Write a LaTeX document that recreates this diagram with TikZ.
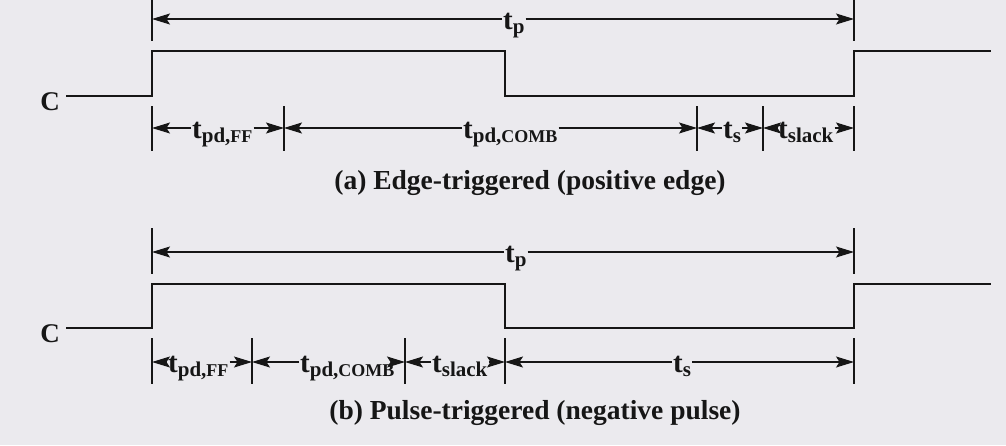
\documentclass[tikz,border=0pt]{standalone}
\usepackage{fontspec}
\setmainfont{Liberation Serif}
\usetikzlibrary{arrows.meta}
\definecolor{bg}{RGB}{235,234,238}
\definecolor{ink}{RGB}{22,22,22}
\newcommand{\lc}[1]{{\fontsize{21}{21}\selectfont #1}}
\newcommand{\uc}[1]{{\fontsize{18}{18}\selectfont #1}}
\newcommand{\tsub}[1]{t\raisebox{-4.5pt}{#1}}
\begin{document}
\begin{tikzpicture}[x=1pt,y=-1pt,
  wave/.style={draw=ink, line width=1.8pt, line join=miter},
  tickline/.style={draw=ink, line width=1.4pt},
  dim/.style={draw=ink, line width=1.3pt, -{Stealth[length=18pt,width=11pt,inset=3.5pt]}},
  lbl/.style={font=\fontsize{29}{29}\selectfont\bfseries, inner xsep=1pt, inner ysep=2pt, anchor=base west, text=ink},
  clbl/.style={font=\fontsize{27}{27}\selectfont\bfseries, inner sep=6pt, anchor=base east, text=ink},
  captext/.style={font=\fontsize{27.5}{28}\selectfont\bfseries, anchor=base, text=ink, inner sep=0pt}]
\fill[bg] (0,0) rectangle (1006,445);
\useasboundingbox (0,0) rectangle (1006,445);

% ---------- (a) ----------
\draw[tickline] (152,0) -- (152,41);
\draw[tickline] (854,0) -- (854,41);
\coordinate (aP1) at (152,19);
\coordinate (aP2) at (854,19);
\node[lbl] (atp) at (502,29) {\tsub{\lc{p}}};
\draw[dim] (atp.west |- aP1) -- (aP1);
\draw[dim] (atp.east |- aP2) -- (aP2);

\node[clbl] (aC) at (66,110) {C};
\draw[wave] (aC.east |- 0,96) -- (152,96) -- (152,51) -- (505,51) -- (505,96) -- (854,96) -- (854,51) -- (991,51);

\foreach \x in {152,284,697,763,854} \draw[tickline] (\x,106) -- (\x,151);
\coordinate (aA) at (152,128);
\coordinate (aB) at (284,128);
\coordinate (aCc) at (697,128);
\coordinate (aD) at (763,128);
\coordinate (aE) at (854,128);
\node[lbl] (aff) at (191,138) {\tsub{\lc{pd,}\uc{FF}}};
\node[lbl] (acomb) at (462,138) {\tsub{\lc{pd,}\uc{COMB}}};
\node[lbl] (ats) at (722,138) {\tsub{\lc{s}}};
\node[lbl] (asl) at (777,138) {\tsub{\lc{slack}}};
\draw[dim] (aff.west |- aA) -- (aA);
\draw[dim] (aff.east |- aB) -- (aB);
\draw[dim] (acomb.west |- aB) -- (aB);
\draw[dim] (acomb.east |- aCc) -- (aCc);
\draw[dim] (ats.west |- aCc) -- (aCc);
\draw[dim] (ats.east |- aD) -- (aD);
\draw[dim] (asl.west |- aD) -- (aD);
\draw[dim] (asl.east |- aE) -- (aE);
\node[captext] (capa) at (530,189) {(a) Edge-triggered (positive edge)};

% ---------- (b) ----------
\draw[tickline] (152,228) -- (152,274);
\draw[tickline] (854,228) -- (854,274);
\coordinate (bP1) at (152,252);
\coordinate (bP2) at (854,252);
\node[lbl] (btp) at (504,262) {\tsub{\lc{p}}};
\draw[dim] (btp.west |- bP1) -- (bP1);
\draw[dim] (btp.east |- bP2) -- (bP2);

\node[clbl] (bC) at (66,342) {C};
\draw[wave] (bC.east |- 0,328) -- (152,328) -- (152,284) -- (505,284) -- (505,328) -- (854,328) -- (854,284) -- (991,284);

\foreach \x in {152,252,405,505,854} \draw[tickline] (\x,338) -- (\x,384);
\coordinate (bA) at (152,362);
\coordinate (bB) at (252,362);
\coordinate (bCc) at (405,362);
\coordinate (bD) at (505,362);
\coordinate (bE) at (854,362);
\node[lbl] (bff) at (167,372) {\tsub{\lc{pd,}\uc{FF}}};
\node[lbl] (bcomb) at (299,372) {\tsub{\lc{pd,}\uc{COMB}}};
\node[lbl] (bsl) at (431,372) {\tsub{\lc{slack}}};
\node[lbl] (bts) at (672,372) {\tsub{\lc{s}}};
\draw[dim] (bff.west |- bA) -- (bA);
\draw[dim] (bff.east |- bB) -- (bB);
\draw[dim] (bcomb.west |- bB) -- (bB);
\draw[dim] (bcomb.east |- bCc) -- (bCc);
\draw[dim] (bsl.west |- bCc) -- (bCc);
\draw[dim] (bsl.east |- bD) -- (bD);
\draw[dim] (bts.west |- bD) -- (bD);
\draw[dim] (bts.east |- bE) -- (bE);
\node[captext] (capb) at (535,419) {(b) Pulse-triggered (negative pulse)};
\end{tikzpicture}
\end{document}
